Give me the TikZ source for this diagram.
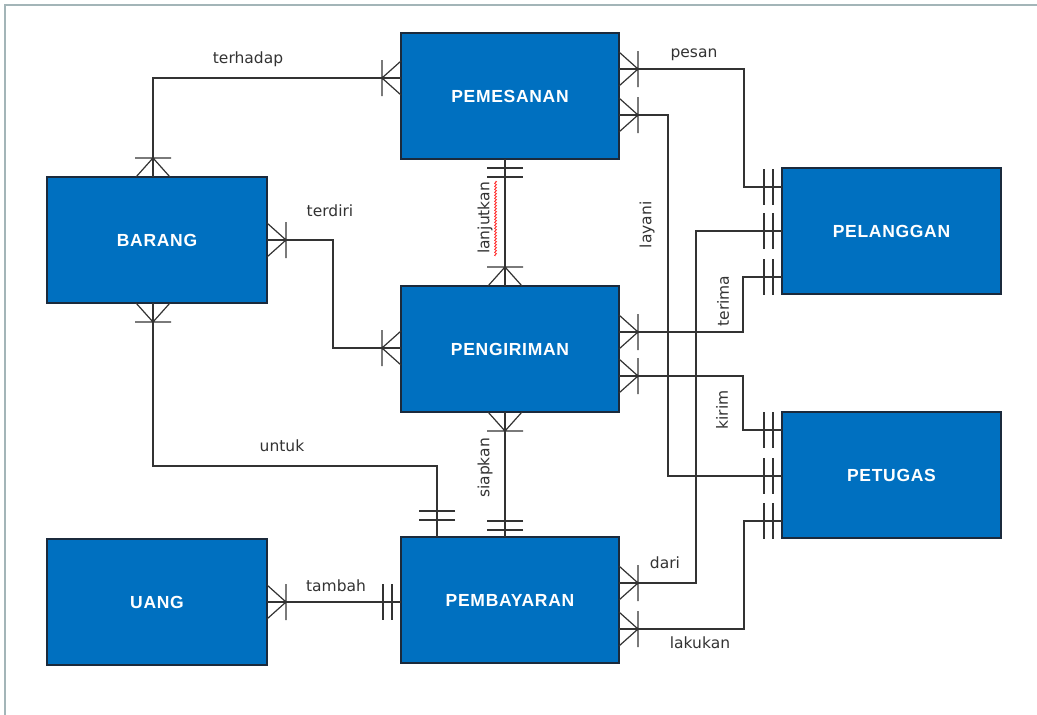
\documentclass[tikz,border=0pt]{standalone}
\usepackage{fontspec}
\usetikzlibrary{decorations.pathmorphing}
\newfontfamily\lblfont{DejaVu Sans}
\newfontfamily\entfont[LetterSpace=4]{Liberation Sans}
\definecolor{entfill}{HTML}{0070C0}
\definecolor{entline}{HTML}{1B2A3C}
\definecolor{connline}{HTML}{333333}
\definecolor{framecol}{HTML}{A3B5B8}
\tikzset{
  entity/.style={rectangle, draw=entline, line width=1.3pt, fill=entfill, inner sep=0pt, outer sep=0pt,
    minimum width=218pt, minimum height=126pt, text=white, font=\entfont\bfseries\fontsize{17.5}{20}\selectfont},
  conn/.style={draw=connline, line width=1.2pt},
  lbl/.style={inner sep=0pt, text=black!80, font=\lblfont\fontsize{15.5}{17}\selectfont},
}
\newcommand\crowend[2]{\begin{scope}[shift={(#1)},rotate=#2]\draw[conn] (0,17) -- (19,0) -- (0,-17) (0,0) -- (19,0) (19,18) -- (19,-18);\end{scope}}
\newcommand\oneend[3][0]{\begin{scope}[shift={(#2)},rotate=#3]\draw[conn] ({9+#1},18) -- ({9+#1},-18) ({18+#1},18) -- ({18+#1},-18);\end{scope}}
\begin{document}
\begin{tikzpicture}[x=1pt,y=-1pt]
\useasboundingbox (0,0) rectangle (1037,715);
\fill[white] (0,0) rectangle (1037,715);
\draw[framecol, line width=2pt] (5,715) -- (5,5) -- (1037,5);

% entities
\node[entity] (pemesanan) at (510,96) {PEMESANAN};
\node[entity, minimum width=220pt] (barang) at (157,240) {BARANG};
\node[entity, minimum width=219pt] (pelanggan) at (891.5,231) {PELANGGAN};
\node[entity] (pengiriman) at (510,349) {PENGIRIMAN};
\node[entity, minimum width=219pt] (petugas) at (891.5,475) {PETUGAS};
\node[entity, minimum width=220pt] (uang) at (157,602) {UANG};
\node[entity] (pembayaran) at (510,600) {PEMBAYARAN};

% terhadap
\draw[conn] (barang.north -| 153,0) |- (pemesanan.west |- 0,78);
\crowend{barang.north -| 153,0}{90}
\crowend{pemesanan.west |- 0,78}{180}
% terdiri
\draw[conn] (barang.east |- 0,240) -- (333,240) |- (pengiriman.west |- 0,348);
\crowend{barang.east |- 0,240}{0}
\crowend{pengiriman.west |- 0,348}{180}
% lanjutkan
\draw[conn] (pemesanan.south -| 505,0) -- (pengiriman.north -| 505,0);
\oneend{pemesanan.south -| 505,0}{270}
\crowend{pengiriman.north -| 505,0}{90}
% siapkan
\draw[conn] (pengiriman.south -| 505,0) -- (pembayaran.north -| 505,0);
\crowend{pengiriman.south -| 505,0}{270}
\oneend[-2]{pembayaran.north -| 505,0}{90}
% untuk
\draw[conn] (barang.south -| 153,0) |- (437,466) -- (pembayaran.north -| 437,0);
\crowend{barang.south -| 153,0}{270}
\oneend[8]{pembayaran.north -| 437,0}{90}
% tambah
\draw[conn] (uang.east |- 0,602) -- (pembayaran.west |- 0,602);
\crowend{uang.east |- 0,602}{0}
\oneend{pembayaran.west |- 0,602}{180}
% pesan
\draw[conn] (pemesanan.east |- 0,69) -| (744,187) -- (pelanggan.west |- 0,187);
\crowend{pemesanan.east |- 0,69}{0}
\oneend{pelanggan.west |- 0,187}{180}
% layani
\draw[conn] (pemesanan.east |- 0,115) -| (668,476) -- (petugas.west |- 0,476);
\crowend{pemesanan.east |- 0,115}{0}
\oneend{petugas.west |- 0,476}{180}
% terima
\draw[conn] (pengiriman.east |- 0,332) -| (743,277) -- (pelanggan.west |- 0,277);
\crowend{pengiriman.east |- 0,332}{0}
\oneend{pelanggan.west |- 0,277}{180}
% kirim
\draw[conn] (pengiriman.east |- 0,376) -| (743,430) -- (petugas.west |- 0,430);
\crowend{pengiriman.east |- 0,376}{0}
\oneend{petugas.west |- 0,430}{180}
% dari
\draw[conn] (pembayaran.east |- 0,583) -| (696,231) -- (pelanggan.west |- 0,231);
\crowend{pembayaran.east |- 0,583}{0}
\oneend{pelanggan.west |- 0,231}{180}
% lakukan
\draw[conn] (pembayaran.east |- 0,629) -| (744,521) -- (petugas.west |- 0,521);
\crowend{pembayaran.east |- 0,629}{0}
\oneend{petugas.west |- 0,521}{180}

% labels
\node[lbl] (lterhadap) at (248,59) {terhadap};
\node[lbl] (lterdiri) at (330,211) {terdiri};
\node[lbl] (lpesan) at (694,55) {pesan};
\node[lbl] (luntuk) at (282,446) {untuk};
\node[lbl] (ltambah) at (336,586) {tambah};
\node[lbl] (ldari) at (665,563) {dari};
\node[lbl] (llakukan) at (700,643) {lakukan};
\node[lbl, rotate=90] (llanjutkan) at (485,218) {lanjutkan};
\draw[red, line width=0.6pt, decorate, decoration={zigzag, segment length=3pt, amplitude=1pt}] (495.5,256) -- (495.5,181);
\node[lbl, rotate=90] (lsiapkan) at (485,468) {siapkan};
\node[lbl, rotate=90] (llayani) at (647,225) {layani};
\node[lbl, rotate=90] (lterima) at (723,301) {terima};
\node[lbl, rotate=90] (lkirim) at (722,410) {kirim};
\end{tikzpicture}
\end{document}
